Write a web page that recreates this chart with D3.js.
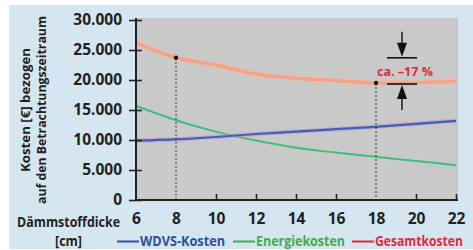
<!DOCTYPE html>
<html>
<head>
<meta charset="utf-8">
<script src="https://cdn.jsdelivr.net/npm/d3@7"></script>
<style>
  body { margin: 0; background: #fff; }
  svg text { font-family: "Open Sans", sans-serif; font-weight: bold; }
</style>
</head>
<body>
<svg id="chart"></svg>
<script>
// Dämmstoffdicke [cm]
const thickness = [6, 8, 10, 12, 14, 16, 18, 20, 22];
// Kosten [€]
const wdvsCosts = [9900, 10100, 10500, 11000, 11400, 11800, 12200, 12700, 13200];
const energyCosts = [15700, 13300, 11400, 9900, 8700, 7900, 7200, 6500, 5800];
const totalCosts = [26200, 23700, 22500, 21000, 20300, 19900, 19500, 19600, 19800];

const yTicks = [0, 5000, 10000, 15000, 20000, 25000, 30000];
const xTicks = [6, 8, 10, 12, 14, 16, 18, 20, 22];
const markedThickness = [8, 18];
const savingLabel = "ca. \u201317 %";

const legendItems = [
  { name: "WDVS-Kosten", color: "#2c4fa3" },
  { name: "Energiekosten", color: "#3cae4c" },
  { name: "Gesamtkosten", color: "#e2283a" },
];

const width = 473;
const height = 250;

const svg = d3.select("#chart").attr("width", width).attr("height", height);

// squeeze a text to a given width (reference font is narrower)
function fit(sel, w) {
  return sel.attr("textLength", w).attr("lengthAdjust", "spacingAndGlyphs");
}

// light blue panel
svg.append("rect")
  .attr("x", 9).attr("y", 5)
  .attr("width", width - 9).attr("height", height - 6)
  .attr("fill", "#d5e6f0");

const xscale = d3.scaleLinear().domain([6, 22]).range([136, 456]);
const yscale = d3.scaleLinear().domain([0, 30000]).range([200, 20]);

// gray plot area
svg.append("rect")
  .attr("x", xscale(6)).attr("y", yscale(30000) - 2)
  .attr("width", 458 - xscale(6)).attr("height", yscale(0) - yscale(30000) + 2)
  .attr("fill", "#c9c9ca");

const de = d3.formatLocale({ decimal: ",", thousands: ".", grouping: [3], currency: ["", " €"] });
const fmt = de.format(",");

// curves
const line = d3.line()
  .x((d) => xscale(d[0]))
  .y((d) => yscale(d[1]))
  .curve(d3.curveMonotoneX);

const series = [
  { values: totalCosts, halo: "#f3b6a0", haloW: 6, core: "#f3a286", coreW: 3 },
  { values: energyCosts, halo: "#c9d79a", haloW: 4.5, core: "#40b89c", coreW: 2 },
  { values: wdvsCosts, halo: "#c69ac4", haloW: 4.5, core: "#3c62b6", coreW: 2.2 },
];

series.forEach((s) => {
  const pts = thickness.map((t, i) => [t, s.values[i]]);
  svg.append("path").datum(pts)
    .attr("d", line).attr("fill", "none")
    .attr("stroke", s.halo).attr("stroke-width", s.haloW)
    .attr("stroke-opacity", 0.6);
  svg.append("path").datum(pts)
    .attr("d", line).attr("fill", "none")
    .attr("stroke", s.core).attr("stroke-width", s.coreW);
});

// marked thickness: dashed drop lines and dots
markedThickness.forEach((t) => {
  const v = totalCosts[thickness.indexOf(t)];
  svg.append("line")
    .attr("x1", xscale(t)).attr("x2", xscale(t))
    .attr("y1", yscale(v)).attr("y2", yscale(0))
    .attr("stroke", "#333").attr("stroke-width", 1)
    .attr("stroke-dasharray", "2,2");
  svg.append("circle")
    .attr("cx", xscale(t)).attr("cy", yscale(v))
    .attr("r", 2.2).attr("fill", "#111");
});

// axes
const g_yaxis = svg.append("g").attr("transform", `translate(${xscale(6)},0)`);
g_yaxis.call(d3.axisLeft(yscale).tickValues(yTicks).tickFormat(fmt).tickSize(7).tickPadding(7));
svg.append("g").attr("transform", `translate(${xscale(6)},0)`)
  .call(d3.axisRight(yscale).tickValues(yTicks).tickFormat("").tickSize(6))
  .select(".domain").remove();

const g_xaxis = svg.append("g").attr("transform", `translate(0,${yscale(0)})`);
g_xaxis.call(d3.axisBottom(xscale).tickValues(xTicks).tickSize(0).tickPadding(10));
svg.append("g").attr("transform", `translate(0,${yscale(0)})`)
  .call(d3.axisTop(xscale)
    .tickValues(xTicks.filter((t) => t !== 6 && markedThickness.indexOf(t) < 0))
    .tickFormat("").tickSize(6))
  .select(".domain").remove();

svg.selectAll(".domain").attr("stroke", "#222").attr("stroke-width", 2);
svg.selectAll(".tick line").attr("stroke", "#222").attr("stroke-width", 1.6);
svg.selectAll(".tick text").attr("fill", "#222").style("font-size", "15.5px").style("font-weight", "bold");
g_xaxis.select(".domain").attr("d", `M${xscale(6) - 1},0H458`);
g_yaxis.select(".domain").attr("d", `M0,${yscale(0) + 1}V${yscale(30000) - 2}`);
g_xaxis.selectAll(".tick text").attr("dy", "0.71em").attr("y", 13);

// axis titles
const ytitle = svg.append("g").attr("transform", "translate(0,110) rotate(-90)");
fit(ytitle.append("text").attr("x", 0).attr("y", 30)
  .attr("text-anchor", "middle").attr("fill", "#222")
  .style("font-size", "13px").text("Kosten [\u20ac] bezogen"), 124);
fit(ytitle.append("text").attr("x", 0).attr("y", 46)
  .attr("text-anchor", "middle").attr("fill", "#222")
  .style("font-size", "13px").text("auf den Betrachtungszeitraum"), 188);

fit(svg.append("text")
  .attr("x", 17).attr("y", 227).attr("fill", "#222")
  .style("font-size", "13.5px")
  .text("D\u00e4mmstoffdicke"), 103);
fit(svg.append("text")
  .attr("x", 55).attr("y", 245.5).attr("fill", "#222")
  .style("font-size", "13.5px")
  .text("[cm]"), 27);

// saving annotation
const topV = totalCosts[thickness.indexOf(8)];
const botV = totalCosts[thickness.indexOf(18)];
const ax = 402;
const yTop = yscale(topV);
const yBot = yscale(botV) + 1;
const ann = svg.append("g").attr("fill", "#111").attr("stroke", "#111");
ann.append("line").attr("x1", ax - 15).attr("x2", ax + 15).attr("y1", yTop).attr("y2", yTop).attr("stroke-width", 1.6);
ann.append("line").attr("x1", ax - 15).attr("x2", ax + 15).attr("y1", yBot).attr("y2", yBot).attr("stroke-width", 1.6);
ann.append("line").attr("x1", ax).attr("x2", ax).attr("y1", yTop - 26).attr("y2", yTop - 10).attr("stroke-width", 1.4);
ann.append("line").attr("x1", ax).attr("x2", ax).attr("y1", yBot + 10).attr("y2", yBot + 26).attr("stroke-width", 1.4);
ann.append("path").attr("stroke", "none")
  .attr("d", `M${ax - 5},${yTop - 15}L${ax + 5},${yTop - 15}L${ax},${yTop - 1}Z`);
ann.append("path").attr("stroke", "none")
  .attr("d", `M${ax - 5},${yBot + 15}L${ax + 5},${yBot + 15}L${ax},${yBot + 1}Z`);
svg.append("text")
  .attr("x", 405).attr("y", 76)
  .attr("text-anchor", "middle").attr("fill", "#e2283a")
  .style("font-size", "12.5px")
  .text(savingLabel);

// legend
const legendX = [117, 233, 352];
const legendW = [85, 89, 88];
const ly = 242;
legendItems.forEach((item, i) => {
  const lx = legendX[i];
  svg.append("line")
    .attr("x1", lx).attr("x2", lx + 22)
    .attr("y1", ly - 0.5).attr("y2", ly - 0.5)
    .attr("stroke", item.color).attr("stroke-width", 2);
  fit(svg.append("text")
    .attr("x", lx + 23).attr("y", ly + 3.5)
    .attr("fill", item.color)
    .style("font-size", "13.5px")
    .text(item.name), legendW[i]);
});
</script>
</body>
</html>
